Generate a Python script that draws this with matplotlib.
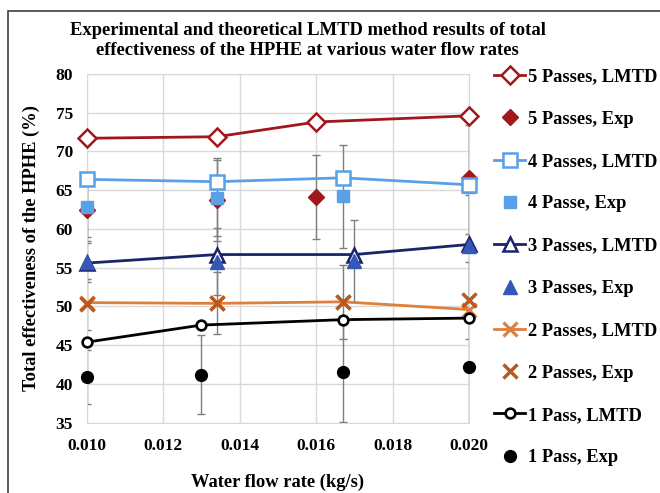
import numpy as np
import matplotlib
matplotlib.use("Agg")
import matplotlib.pyplot as plt
from matplotlib.patches import Rectangle

plt.rcParams['font.family'] = ['Liberation Serif', 'DejaVu Serif']
plt.rcParams['font.weight'] = 'bold'

# data
x5 = [0.010, 0.0134, 0.016, 0.020]
lmtd5 = [71.7, 71.9, 73.8, 74.6]
exp5 = [62.5, 63.8, 64.1, 66.6]
err5 = [4.0, 5.4, 5.4, 7.3]

x4 = [0.010, 0.0134, 0.0167, 0.020]
lmtd4 = [66.4, 66.1, 66.6, 65.7]
exp4 = [62.8, 64.0, 64.2, 65.4]
err4 = [3.8, 4.9, 6.6, 8.0]

x3 = [0.010, 0.0134, 0.0170, 0.020]
lmtd3 = [55.6, 56.7, 56.7, 58.0]
exp3 = [55.7, 55.8, 55.9, 57.8]
err3 = [2.5, 4.3, 5.3, 6.6]

x2 = [0.010, 0.0134, 0.0167, 0.020]
lmtd2 = [50.5, 50.4, 50.6, 49.6]
exp2 = [50.3, 50.5, 50.6, 50.8]
err2 = [3.3, 4.0, 4.8, 5.0]

x1 = [0.010, 0.013, 0.0167, 0.020]
lmtd1 = [45.4, 47.6, 48.3, 48.5]
exp1 = [40.9, 41.2, 41.5, 42.2]
err1 = [3.5, 5.1, 6.4, 7.5]

xticks = [0.010, 0.012, 0.014, 0.016, 0.018, 0.020]
yticks = [35, 40, 45, 50, 55, 60, 65, 70, 75, 80]

red = '#A0171C'
lblue = '#5AA0E6'
navy = '#1B2468'
blue = '#3558B8'
orange = '#E07E3C'
brown = '#B85A1E'
ebar = '#7F7F7F'

fig = plt.figure(figsize=(6.6, 4.93), dpi=100)
ax = fig.add_axes([0.1314, 0.1425, 0.5793, 0.7075])

# error bars first (behind markers)
for xs, ys, es in [(x5, exp5, err5), (x4, exp4, err4), (x3, exp3, err3),
                   (x2, exp2, err2), (x1, exp1, err1)]:
    ax.errorbar(xs, ys, yerr=es, fmt='none', ecolor=ebar, elinewidth=1,
                capsize=3, capthick=1, zorder=2)

lw = 2.0
h = []
h.append(ax.plot(x5, lmtd5, color=red, lw=lw, marker='D', ms=9.5, mfc='white',
                 mec=red, mew=1.8, label='5 Passes, LMTD', zorder=4)[0])
h.append(ax.plot(x5, exp5, ls='none', marker='D', ms=8.5, color=red,
                 label='5 Passes, Exp', zorder=3)[0])
h.append(ax.plot(x4, lmtd4, color=lblue, lw=lw, marker='s', ms=9.5, mfc='white',
                 mec=lblue, mew=1.8, label='4 Passes, LMTD', zorder=4)[0])
h.append(ax.plot(x4, exp4, ls='none', marker='s', ms=8.5, color=lblue,
                 label='4 Passe, Exp', zorder=3)[0])
h.append(ax.plot(x3, lmtd3, color=navy, lw=lw, marker='^', ms=10.5, mfc='white',
                 mec=navy, mew=1.8, label='3 Passes, LMTD', zorder=4)[0])
h.append(ax.plot(x3, exp3, ls='none', marker='^', ms=10.5, color=blue,
                 label='3 Passes, Exp', zorder=5)[0])
h.append(ax.plot(x2, lmtd2, color=orange, lw=lw, marker='x', ms=10,
                 mec=orange, mew=2.3, label='2 Passes, LMTD', zorder=4)[0])
h.append(ax.plot(x2, exp2, ls='none', marker='x', ms=10.5, mec=brown, mew=2.5,
                 label='2 Passes, Exp', zorder=5)[0])
h.append(ax.plot(x1, lmtd1, color='black', lw=lw, marker='o', ms=7, mfc='white',
                 mec='black', mew=1.9, label='1 Pass, LMTD', zorder=4)[0])
h.append(ax.plot(x1, exp1, ls='none', marker='o', ms=8.5, color='black',
                 label='1 Pass, Exp', zorder=3)[0])
for ln in h:
    ln.set_clip_on(False)

ax.set_xlim(0.010, 0.020)
ax.set_ylim(35, 80)
ax.set_xticks(xticks)
ax.set_xticklabels(['%.3f' % v for v in xticks])
ax.set_yticks(yticks)
ax.grid(True, color='#D9D9D9', lw=1)
ax.set_axisbelow(True)
for s in ax.spines.values():
    s.set_color('#D9D9D9')
ax.tick_params(length=0, labelsize=12.5)
ax.tick_params(axis='x', pad=11)
ax.tick_params(axis='y', pad=10)
for t in ax.get_xticklabels() + ax.get_yticklabels():
    t.set_fontweight('bold')

ax.set_xlabel('Water flow rate (kg/s)', fontsize=13.3, fontweight='bold', labelpad=14)
ax.set_ylabel('Total effectiveness of the HPHE (%)', fontsize=13.3, fontweight='bold', labelpad=11)

fig.text(0.466, 1 - 30.7 / 493, 'Experimental and theoretical LMTD method results of total',
         ha='center', va='center', fontsize=13.4, fontweight='bold')
fig.text(0.466, 1 - 50.7 / 493, 'effectiveness of the HPHE at various water flow rates',
         ha='center', va='center', fontsize=13.4, fontweight='bold')

leg = ax.legend(handles=h, loc='upper left', bbox_to_anchor=(1.046, 1.037),
                frameon=False, fontsize=13.3, handlelength=1.68, handletextpad=0.16,
                labelspacing=1.37, borderaxespad=0)
for t in leg.get_texts():
    t.set_fontweight('bold')

fig.patches.append(Rectangle((8 / 660, -0.05), 1.1, 1 - 11 / 493 + 0.05,
                             transform=fig.transFigure, fill=False,
                             edgecolor='#404040', lw=1.2))

fig.savefig('out.png', dpi=100)
